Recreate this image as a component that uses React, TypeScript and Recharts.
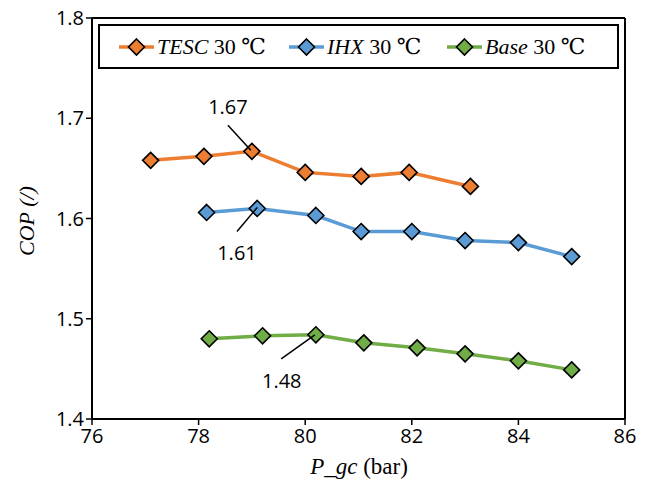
import React from "react";
import {
  LineChart, Line, XAxis, YAxis, CartesianGrid, ReferenceLine, ReferenceDot,
} from "recharts";

const tescX = [77.1, 78.1, 79.0, 80.0, 81.05, 81.95, 83.1];
const tescY = [1.658, 1.662, 1.667, 1.646, 1.642, 1.646, 1.632];
const ihxX = [78.15, 79.1, 80.2, 81.05, 82.0, 83.0, 84.0, 85.0];
const ihxY = [1.606, 1.610, 1.603, 1.587, 1.587, 1.578, 1.576, 1.562];
const baseX = [78.2, 79.2, 80.2, 81.1, 82.1, 83.0, 84.0, 85.0];
const baseY = [1.480, 1.483, 1.484, 1.476, 1.471, 1.465, 1.458, 1.449];

const xTicks = [76, 78, 80, 82, 84, 86];
const yTicks = [1.4, 1.5, 1.6, 1.7, 1.8];

const seriesNames = ["TESC", "IHX", "Base"];
const seriesColors = ["#ED7D31", "#5B9BD5", "#70AD47"];

// annotations: label text, label position, leader line start/end (data units)
const annLabels = ["1.67", "1.61", "1.48"];
const annText = [
  { x: 78.55, y: 1.711 },
  { x: 78.72, y: 1.566 },
  { x: 79.56, y: 1.438 },
];
const annLines = [
  [{ x: 78.55, y: 1.693 }, { x: 78.98, y: 1.668 }],
  [{ x: 78.72, y: 1.587 }, { x: 79.1, y: 1.611 }],
  [{ x: 79.55, y: 1.460 }, { x: 80.18, y: 1.484 }],
];

const zip = (xs: number[], ys: number[]) => xs.map((x, i) => ({ x, y: ys[i] }));
const seriesData = [zip(tescX, tescY), zip(ihxX, ihxY), zip(baseX, baseY)];

const Diamond = (props: any) => {
  const { cx, cy, fill } = props;
  if (cx == null || cy == null) return null;
  const r = 8;
  return (
    <path
      d={`M${cx},${cy - r}L${cx + r},${cy}L${cx},${cy + r}L${cx - r},${cy}Z`}
      fill={fill}
      stroke="#000"
      strokeWidth={1.6}
    />
  );
};

const tickFont = "'Open Sans', 'Noto Sans', sans-serif";
const serif = "'Liberation Serif', 'DejaVu Serif', serif";

const LegendBox = () => {
  const items = [
    { x0: 119, tx: 157 },
    { x0: 289, tx: 327 },
    { x0: 447, tx: 485 },
  ];
  return (
    <g>
      <rect x={99} y={25} width={519} height={43} fill="#fff" stroke="#000" strokeWidth={2} />
      {items.map((it, i) => (
        <g key={i}>
          <line x1={it.x0} y1={47} x2={it.x0 + 35} y2={47} stroke={seriesColors[i]} strokeWidth={3.5} />
          <Diamond cx={it.x0 + 17.5} cy={47} fill={seriesColors[i]} />
          <text x={it.tx} y={54} fontSize={22} fontFamily={serif} fill="#000">
            <tspan fontStyle="italic">{seriesNames[i]}</tspan>
            <tspan> 30 ℃</tspan>
          </text>
        </g>
      ))}
    </g>
  );
};

export default function App() {
  return (
    <div style={{ width: 651, height: 485 }}>
      <style>{`body{margin:0}`}</style>
      <LineChart
        width={651}
        height={485}
        margin={{ top: 18, right: 26, bottom: 0, left: 0 }}
      >
        <CartesianGrid stroke="#d9d9d9" strokeDasharray="6 4" strokeWidth={1.5} />
        <XAxis
          xAxisId="b"
          dataKey="x"
          type="number"
          domain={[76, 86]}
          ticks={xTicks}
          height={66}
          axisLine={{ stroke: "#000", strokeWidth: 2 }}
          tickLine={{ stroke: "#000", strokeWidth: 1.5 }}
          tickSize={6}
          tickMargin={4}
          tick={{ fill: "#000", fontSize: 20, fontFamily: tickFont }}
        />
        <YAxis
          yAxisId="l"
          type="number"
          domain={[1.4, 1.8]}
          ticks={yTicks}
          width={92}
          axisLine={{ stroke: "#000", strokeWidth: 2 }}
          tickLine={{ stroke: "#000", strokeWidth: 1.5 }}
          tickSize={6}
          tickFormatter={(v: number) => v.toFixed(1)}
          tick={{ fill: "#000", fontSize: 20, fontFamily: tickFont }}
        />
        <ReferenceLine xAxisId="b" yAxisId="l" y={1.8} stroke="#000" strokeWidth={2} ifOverflow="visible" />
        <ReferenceLine xAxisId="b" yAxisId="l" x={86} stroke="#000" strokeWidth={2} ifOverflow="visible" />
        {seriesData.map((d, i) => (
          <Line
            key={seriesNames[i]}
            xAxisId="b"
            yAxisId="l"
            data={d}
            dataKey="y"
            stroke={seriesColors[i]}
            strokeWidth={3.5}
            dot={<Diamond fill={seriesColors[i]} />}
            activeDot={false}
            isAnimationActive={false}
          />
        ))}
        {annLines.map((seg, i) => (
          <ReferenceLine
            key={"al" + i}
            xAxisId="b"
            yAxisId="l"
            segment={seg}
            stroke="#000"
            strokeWidth={1.5}
            ifOverflow="visible"
            {...({ zIndex: 2000 } as any)}
          />
        ))}
        {annText.map((p, i) => (
          <ReferenceDot
            key={"at" + i}
            xAxisId="b"
            yAxisId="l"
            x={p.x}
            y={p.y}
            r={0}
            fill="none"
            stroke="none"
            ifOverflow="visible"
            label={{
              value: annLabels[i],
              position: "center",
              fontSize: 20,
              fontFamily: tickFont,
              fill: "#000",
            }}
          />
        ))}
        <LegendBox />
        <text x={359} y={474} textAnchor="middle" fontSize={23} fontFamily={serif} fill="#000">
          <tspan fontStyle="italic">P_gc</tspan>
          <tspan> (bar)</tspan>
        </text>
        <text
          x={34}
          y={221}
          textAnchor="middle"
          fontSize={22}
          fontFamily={serif}
          fontStyle="italic"
          fill="#000"
          transform="rotate(-90 34 221)"
        >
          COP (/)
        </text>
      </LineChart>
    </div>
  );
}
